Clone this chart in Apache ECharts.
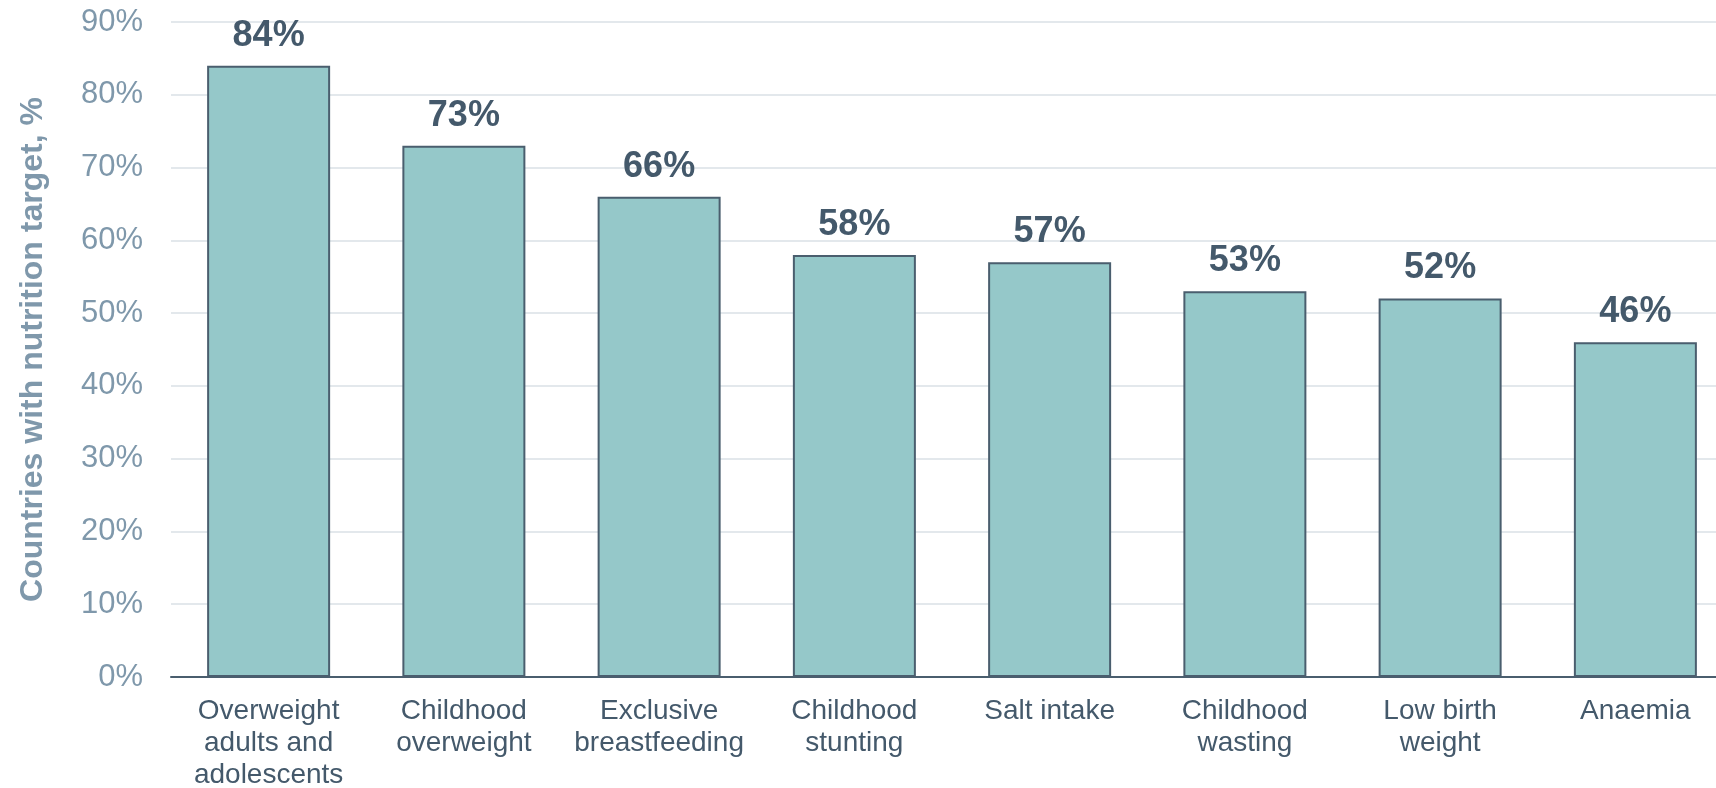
<!DOCTYPE html>
<html>
<head>
<meta charset="utf-8">
<script src="https://cdn.jsdelivr.net/npm/echarts@6/dist/echarts.min.js"></script>
<style>
  html, body { margin: 0; padding: 0; background: #fff; }
  #chart { width: 1716px; height: 788px; }
</style>
</head>
<body>
<div id="chart"></div>
<script>
const categories = [
  'Overweight\nadults and\nadolescents',
  'Childhood\noverweight',
  'Exclusive\nbreastfeeding',
  'Childhood\nstunting',
  'Salt intake',
  'Childhood\nwasting',
  'Low birth\nweight',
  'Anaemia'
]
const values = [84, 73, 66, 58, 57, 53, 52, 46]
const yTicks = [0, 10, 20, 30, 40, 50, 60, 70, 80, 90]

const font = '"Liberation Sans", Arial, sans-serif'

let option = {
  animation: false,
  grid: {
    left: 171,
    top: 22,
    bottom: 111,
    width: 1562,
    containLabel: false,
    outerBoundsMode: 'none',
  },
  xAxis: {
    type: 'category',
    data: categories,
    axisLine: { lineStyle: { color: '#4a5e6e', width: 2 } },
    axisTick: { show: false },
    axisLabel: {
      interval: 0,
      margin: 18,
      color: '#44596b',
      fontFamily: font,
      fontSize: 28,
      lineHeight: 32,
    },
  },
  yAxis: {
    type: 'value',
    min: yTicks[0],
    max: yTicks[yTicks.length - 1],
    interval: 10,
    name: 'Countries with nutrition target, %',
    nameLocation: 'middle',
    nameGap: 122,
    nameTextStyle: {
      color: '#7f98ab',
      fontFamily: font,
      fontSize: 32,
      fontWeight: 'bold',
    },
    axisLine: { show: false },
    axisTick: { show: false },
    axisLabel: {
      margin: 28,
      color: '#7f98ab',
      fontFamily: font,
      fontSize: 31,
      formatter: '{value}%',
    },
    splitLine: { lineStyle: { color: '#e3e8ec', width: 2 } },
  },
  series: [
    {
      type: 'bar',
      data: values,
      barWidth: 123,
      itemStyle: {
        color: '#95c8c9',
        borderColor: '#4a5e6e',
        borderWidth: 2,
      },
      label: {
        show: true,
        position: 'top',
        distance: 12,
        formatter: '{c}%',
        color: '#44596b',
        fontFamily: font,
        fontSize: 36,
        fontWeight: 'bold',
      },
    },
  ],
}

const myChart = echarts.init(document.getElementById('chart'))
myChart.setOption(option)
</script>
</body>
</html>
